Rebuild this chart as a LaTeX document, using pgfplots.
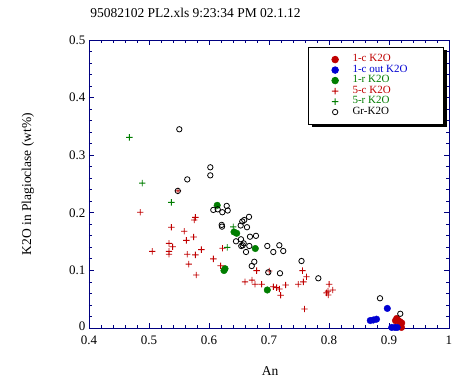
\documentclass[border=0pt]{standalone}
\usepackage{fontspec}
\setmainfont{Liberation Serif}
\usepackage{pgfplots}
\pgfplotsset{compat=1.18}
\usetikzlibrary{shadows}
\definecolor{cred}{RGB}{192,0,0}
\definecolor{cblue}{RGB}{0,0,210}
\definecolor{cgreen}{RGB}{0,125,0}
\definecolor{axblue}{RGB}{0,0,128}
\pgfdeclareplotmark{fplus}{%
  \pgfpathrectangle{\pgfqpoint{-\pgfplotmarksize}{-0.45pt}}{\pgfqpoint{2\pgfplotmarksize}{0.9pt}}%
  \pgfpathrectangle{\pgfqpoint{-0.45pt}{-\pgfplotmarksize}}{\pgfqpoint{0.9pt}{2\pgfplotmarksize}}%
  \pgfusepathqfill}
\begin{document}
\begin{tikzpicture}
\useasboundingbox (-89pt,-53pt) rectangle (378pt,328pt);
\begin{axis}[
  scale only axis, width=360pt, height=288pt,
  xmin=0.4, xmax=1, ymin=0, ymax=0.5,
  xtick={0.4,0.5,0.6,0.7,0.8,0.9,1},
  ytick={0,0.1,0.2,0.3,0.4,0.5},
  yticklabels={{\raisebox{4pt}{0}},0.1,0.2,0.3,0.4,0.5},
  minor x tick num=4, minor y tick num=4,
  tick align=inside, major tick length=5pt, minor tick length=3pt,
  axis line style={axblue, line width=0.8pt},
  every tick/.style={axblue, line width=0.8pt},
  tick label style={font=\fontsize{13}{13}\selectfont},
  xticklabel style={yshift=-4pt},
  /pgf/number format/assume math mode=true,
  clip=false,
  xlabel={An}, ylabel={K2O in Plagioclase (wt\%)},
  label style={font=\fontsize{13.5}{13.5}\selectfont},
  xlabel style={at={(axis description cs:0.503,-0.149)}, anchor=center},
  ylabel style={at={(axis description cs:-0.17,0.5)}, anchor=center},
  legend style={at={(axis description cs:0.986,0.976)}, anchor=north east,
    draw=black, line width=0.8pt, fill=white,
    drop shadow={shadow xshift=3pt, shadow yshift=-3pt, fill=black, opacity=1},
    font=\fontsize{11}{11}\selectfont,
    inner xsep=16pt, inner ysep=7pt, row sep=0pt,
    /tikz/column sep=7pt,
    nodes={inner sep=0pt, text height=7.5pt, text depth=3pt}},
  legend cell align=left,
  legend image code/.code={\draw[#1] plot coordinates {(0pt,0pt)}; \path (-10pt,0pt) (10pt,0pt);},
]
\node[anchor=west, font=\fontsize{13.5}{13.5}\selectfont, inner sep=0pt] at (axis description cs:0.003,1.094) {95082102 PL2.xls 9:23:34 PM 02.1.12};
% 1-c K2O
\addplot[only marks, color=cred, mark=*, mark size=3.3pt, mark options={fill=cred, draw=cred}] coordinates {
(0.9128,0.0165) (0.9155,0.013) (0.9108,0.0127) (0.9183,0.011) (0.9212,0.0087) (0.9208,0.001)
};
\addlegendentry{\makebox[75pt][l]{\textcolor{cred}{1-c K2O}}}
% 1-c out K2O
\addplot[only marks, color=cblue, mark=*, mark size=3.3pt, mark options={fill=cblue, draw=cblue}] coordinates {
(0.8972,0.034) (0.8688,0.013) (0.8738,0.0139) (0.8792,0.0153) (0.9045,0.001) (0.9100,0.001) (0.9137,0.001)
};
\addlegendentry{\makebox[75pt][l]{\textcolor{cblue}{1-c out K2O}}}
% 1-r K2O
\addplot[only marks, color=cgreen, mark=*, mark size=3.3pt, mark options={fill=cgreen, draw=cgreen}] coordinates {
(0.6137,0.213) (0.6417,0.1667) (0.6462,0.1644) (0.6772,0.138) (0.6267,0.103) (0.625,0.0998) (0.6972,0.066)
};
\addlegendentry{\makebox[75pt][l]{\textcolor{cgreen}{1-r K2O}}}
% 5-c K2O
\addplot[only marks, color=cred, mark=fplus, mark size=3.2pt, mark options={fill=cred, draw=none}] coordinates {
(0.5483,0.238) (0.4855,0.201) (0.5772,0.192) (0.5755,0.1875) (0.5372,0.175) (0.5588,0.168)
(0.5745,0.158) (0.5622,0.152) (0.5333,0.147) (0.5395,0.141) (0.5055,0.133) (0.5333,0.133)
(0.5333,0.128) (0.5872,0.136) (0.5638,0.128) (0.5772,0.127) (0.6072,0.120) (0.5662,0.111)
(0.5788,0.092) (0.6225,0.1385) (0.6195,0.108) (0.6795,0.0995) (0.7005,0.099) (0.7558,0.0995)
(0.7625,0.089) (0.7572,0.080) (0.66,0.080) (0.6717,0.083) (0.6767,0.076) (0.6878,0.076)
(0.7072,0.0717) (0.7128,0.070) (0.7172,0.0677) (0.7195,0.0568) (0.7278,0.0747) (0.7488,0.0759)
(0.8003,0.0759) (0.8062,0.066) (0.7958,0.061) (0.7988,0.0573) (0.7983,0.064) (0.7592,0.033)
};
\addlegendentry{\makebox[75pt][l]{\textcolor{cred}{5-c K2O}}}
% 5-r K2O
\addplot[only marks, color=cgreen, mark=fplus, mark size=3.2pt, mark options={fill=cgreen, draw=none}] coordinates {
(0.4672,0.331) (0.4888,0.2514) (0.5372,0.218) (0.6405,0.1755) (0.6305,0.140)
};
\addlegendentry{\makebox[75pt][l]{\textcolor{cgreen}{5-r K2O}}}
% Gr-K2O
\addplot[only marks, color=black, mark=o, mark size=2.7pt, line width=0.8pt] coordinates {
(0.5505,0.345) (0.6022,0.279) (0.6022,0.265) (0.5638,0.258) (0.548,0.238)
(0.6072,0.205) (0.6145,0.206) (0.6222,0.201) (0.6295,0.212) (0.6312,0.204)
(0.6217,0.176) (0.6212,0.179) (0.6667,0.193) (0.6588,0.1875) (0.6555,0.185)
(0.6633,0.175) (0.6528,0.178) (0.6683,0.1585) (0.6783,0.160) (0.6533,0.154)
(0.645,0.1505) (0.6578,0.147) (0.6672,0.1424) (0.6538,0.1424) (0.6617,0.132)
(0.6562,0.1436) (0.6972,0.1424) (0.7172,0.1436) (0.7072,0.132) (0.7238,0.1337)
(0.7542,0.1163) (0.6755,0.115) (0.6712,0.1076) (0.6988,0.0967) (0.7183,0.095)
(0.7822,0.0863) (0.885,0.0516) (0.9188,0.0247)
};
\addlegendentry{\makebox[75pt][l]{Gr-K2O}}
\end{axis}
\end{tikzpicture}
\end{document}
